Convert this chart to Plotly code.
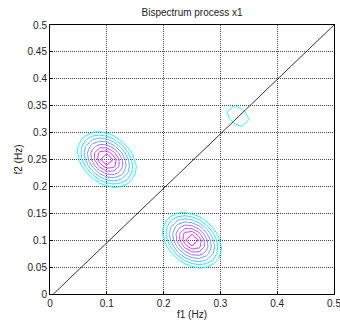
import numpy as np
import plotly.graph_objects as go

# frequency grid (Hz)
grid_step = 0.0125
f_grid = [round(i * grid_step, 4) for i in range(41)]

# bispectrum magnitude patches (rows: f2 ascending, cols: f1 ascending)
peak_patch = [
    [0, 0, 0, 0, 0, 0, 0, 0, 0, 0, 0],
    [0, 0, 0, 0, 0, 0.77, 1.20, 1.03, 0.30, 0, 0],
    [0, 0, 0, 0.59, 2.07, 3.08, 3.41, 2.95, 1.84, 0.30, 0],
    [0, 0, 0.59, 2.55, 4.25, 5.39, 5.51, 4.56, 2.95, 1.03, 0],
    [0, 0, 2.07, 4.25, 6.28, 7.69, 7.28, 5.51, 3.41, 1.20, 0],
    [0, 0.77, 3.08, 5.39, 7.69, 10, 7.69, 5.39, 3.08, 0.77, 0],
    [0, 1.20, 3.41, 5.51, 7.28, 7.69, 6.28, 4.25, 2.07, 0, 0],
    [0, 1.03, 2.95, 4.56, 5.51, 5.39, 4.25, 2.55, 0.59, 0, 0],
    [0, 0.30, 1.84, 2.95, 3.41, 3.08, 2.07, 0.59, 0, 0, 0],
    [0, 0, 0.30, 1.03, 1.20, 0.77, 0, 0, 0, 0, 0],
    [0, 0, 0, 0, 0, 0, 0, 0, 0, 0, 0],
]
small_patch = [
    [0.5, 0.8, 1.05, 0.7],
    [0.8, 1.4, 1.5, 1.02],
    [1.05, 1.5, 1.3, 0.7],
    [0.7, 1.02, 0.7, 0.4],
]
# lower-left corner (f1, f2) of each patch
patch_f1 = [0.0375, 0.1875, 0.3125]
patch_f2 = [0.1875, 0.0375, 0.3125]
patches = [peak_patch, peak_patch, small_patch]

# diagonal reference line
diag_f1 = [0.006, 0.5]
diag_f2 = [0.0, 0.5]

# contour levels
level_start, level_end, level_step = 1, 8, 1

x_ticks = [0, 0.1, 0.2, 0.3, 0.4, 0.5]
x_tick_text = ["0", "0.1", "0.2", "0.3", "0.4", "0.5"]
y_ticks = [0, 0.05, 0.1, 0.15, 0.2, 0.25, 0.3, 0.35, 0.4, 0.45, 0.5]
y_tick_text = ["0", "0.05", "0.1", "0.15", "0.2", "0.25", "0.3", "0.35", "0.4", "0.45", "0.5"]

# build the field
Z = np.zeros((len(f_grid), len(f_grid)))
for fx, fy, patch in zip(patch_f1, patch_f2, patches):
    p = np.array(patch, dtype=float)
    ci = int(round(fx / grid_step))
    ri = int(round(fy / grid_step))
    Z[ri:ri + p.shape[0], ci:ci + p.shape[1]] += p

font = "Liberation Sans, Arial, sans-serif"
fig = go.Figure()
fig.add_trace(go.Contour(
    x=f_grid, y=f_grid, z=Z,
    contours=dict(start=level_start, end=level_end, size=level_step, coloring="lines"),
    colorscale=[[0, "rgb(0,255,255)"], [1, "rgb(255,0,255)"]],
    zmin=level_start, zmax=level_end,
    line=dict(width=1, smoothing=0),
    showscale=False, hoverinfo="skip",
))
fig.add_trace(go.Scatter(
    x=diag_f1, y=diag_f2, mode="lines",
    line=dict(color="black", width=0.8), showlegend=False, hoverinfo="skip",
))

axis_common = dict(
    showgrid=True, gridcolor="rgba(40,40,40,0.85)", griddash="1px,1px", gridwidth=1,
    showline=True, linecolor="black", linewidth=1, mirror=True,
    ticks="inside", ticklen=3, tickcolor="black",
    zeroline=False, tickfont=dict(family=font, size=10, color="#222"),
    automargin=False, ticklabeloverflow="allow",
)
fig.update_xaxes(range=[0, 0.5], tickvals=x_ticks, ticktext=x_tick_text,
                 title=dict(text="f1 (Hz)", font=dict(family=font, size=10, color="#222"), standoff=2),
                 **axis_common)
fig.update_yaxes(range=[0, 0.5], tickvals=y_ticks, ticktext=y_tick_text,
                 title=dict(text="f2 (Hz)", font=dict(family=font, size=10, color="#222"), standoff=3),
                 **axis_common)
fig.update_layout(
    width=340, height=320,
    margin=dict(l=50, r=6, t=25, b=26),
    paper_bgcolor="white", plot_bgcolor="white",
    showlegend=False,
    title=dict(text="Bispectrum process x1", x=0.565, xanchor="center", y=0.96, yanchor="middle",
               font=dict(family=font, size=10, color="#222")),
)
fig.write_html("out.html")
